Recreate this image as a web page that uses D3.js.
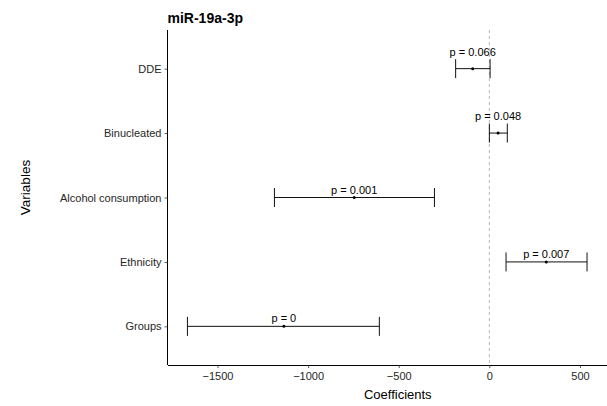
<!DOCTYPE html>
<html>
<head>
<meta charset="utf-8">
<script src="https://cdn.jsdelivr.net/npm/d3@7"></script>
<style>
  html, body { margin: 0; padding: 0; background: #fff; overflow: hidden; }
  svg { display: block; font-family: "Liberation Sans", Arial, Helvetica, sans-serif; }
</style>
</head>
<body>
<svg id="chart" width="607" height="406"></svg>
<script>
// Regression coefficients with confidence intervals for miR-19a-3p
const variables = ["DDE", "Binucleated", "Alcohol consumption", "Ethnicity", "Groups"];
const estimates = [-92, 48, -746, 314, -1134];
const lowerCI   = [-186, 0, -1186, 92, -1666];
const upperCI   = [4, 99, -303, 539, -607];
const pValues   = [0.066, 0.048, 0.001, 0.007, 0];
const xTicks    = [-1500, -1000, -500, 0, 500];

const rows = variables.map((v, i) => ({
  variable: v, est: estimates[i], lo: lowerCI[i], hi: upperCI[i], p: pValues[i]
}));

// layout
const W = 607, H = 406;
const panel = { left: 167.5, right: 628, top: 30, bottom: 365 };
const capHalf = 9.5;
const labelLift = { "DDE": 13, "Binucleated": 13 };   // rows whose label sits higher
const defaultLift = 4;

const svg = d3.select("#chart");

const x = d3.scaleLinear().domain([-1776, 765]).range([panel.left, panel.right]);
const y = d3.scalePoint().domain(variables).range([panel.top, panel.bottom]).padding(0.6);

// reference line at zero
svg.append("line")
  .attr("x1", x(0)).attr("x2", x(0))
  .attr("y1", panel.top).attr("y2", panel.bottom)
  .attr("stroke", "#a8a8a8").attr("stroke-width", 0.8)
  .attr("stroke-dasharray", "3,3");

// error bars
const g = svg.append("g").attr("stroke", "#111").attr("stroke-width", 1).attr("fill", "none");
rows.forEach(d => {
  const yy = y(d.variable);
  g.append("line").attr("x1", x(d.lo)).attr("x2", x(d.hi)).attr("y1", yy).attr("y2", yy);
  g.append("line").attr("x1", x(d.lo)).attr("x2", x(d.lo)).attr("y1", yy - capHalf).attr("y2", yy + capHalf);
  g.append("line").attr("x1", x(d.hi)).attr("x2", x(d.hi)).attr("y1", yy - capHalf).attr("y2", yy + capHalf);
});

// point estimates
svg.append("g").selectAll("circle").data(rows).join("circle")
  .attr("cx", d => x(d.est)).attr("cy", d => y(d.variable))
  .attr("r", 1.5).attr("fill", "#000");

// p-value labels
svg.append("g").selectAll("text").data(rows).join("text")
  .attr("x", d => x(d.est))
  .attr("y", d => y(d.variable) - (labelLift[d.variable] ?? defaultLift))
  .attr("text-anchor", "middle")
  .attr("font-size", 11)
  .attr("fill", "#000")
  .text(d => "p = " + d.p);

// x axis
const xAxis = svg.append("g")
  .attr("transform", `translate(0,${panel.bottom})`)
  .call(d3.axisBottom(x).tickValues(xTicks).tickFormat(d3.format("d"))
    .tickSize(3).tickPadding(4).tickSizeOuter(0));
xAxis.select(".domain").attr("stroke", "#000").attr("stroke-width", 1);
xAxis.selectAll(".tick line").attr("stroke", "#333").attr("stroke-width", 0.8);
xAxis.selectAll(".tick text").attr("font-size", 11).attr("fill", "#262626")
  .attr("font-family", "Liberation Sans, Arial, sans-serif");

// y axis
const yAxis = svg.append("g")
  .attr("transform", `translate(${panel.left},0)`)
  .call(d3.axisLeft(y).tickSize(3).tickPadding(3).tickSizeOuter(0));
yAxis.select(".domain").attr("stroke", "#000").attr("stroke-width", 1)
  .attr("d", `M0,${panel.top}V${panel.bottom}`);
yAxis.selectAll(".tick line").attr("stroke", "#333").attr("stroke-width", 0.8);
yAxis.selectAll(".tick text").attr("font-size", 11).attr("fill", "#262626")
  .attr("font-family", "Liberation Sans, Arial, sans-serif");

// titles
svg.append("text")
  .attr("x", panel.left).attr("y", 23)
  .attr("font-size", 14).attr("font-weight", "bold").attr("fill", "#000")
  .text("miR-19a-3p");

svg.append("text")
  .attr("x", (panel.left + panel.right) / 2).attr("y", 399)
  .attr("text-anchor", "middle").attr("font-size", 13).attr("fill", "#000")
  .text("Coefficients");

svg.append("text")
  .attr("transform", `translate(30,${(panel.top + panel.bottom) / 2 - 10}) rotate(-90)`)
  .attr("text-anchor", "middle").attr("font-size", 13.5).attr("fill", "#000")
  .text("Variables");
</script>
</body>
</html>
